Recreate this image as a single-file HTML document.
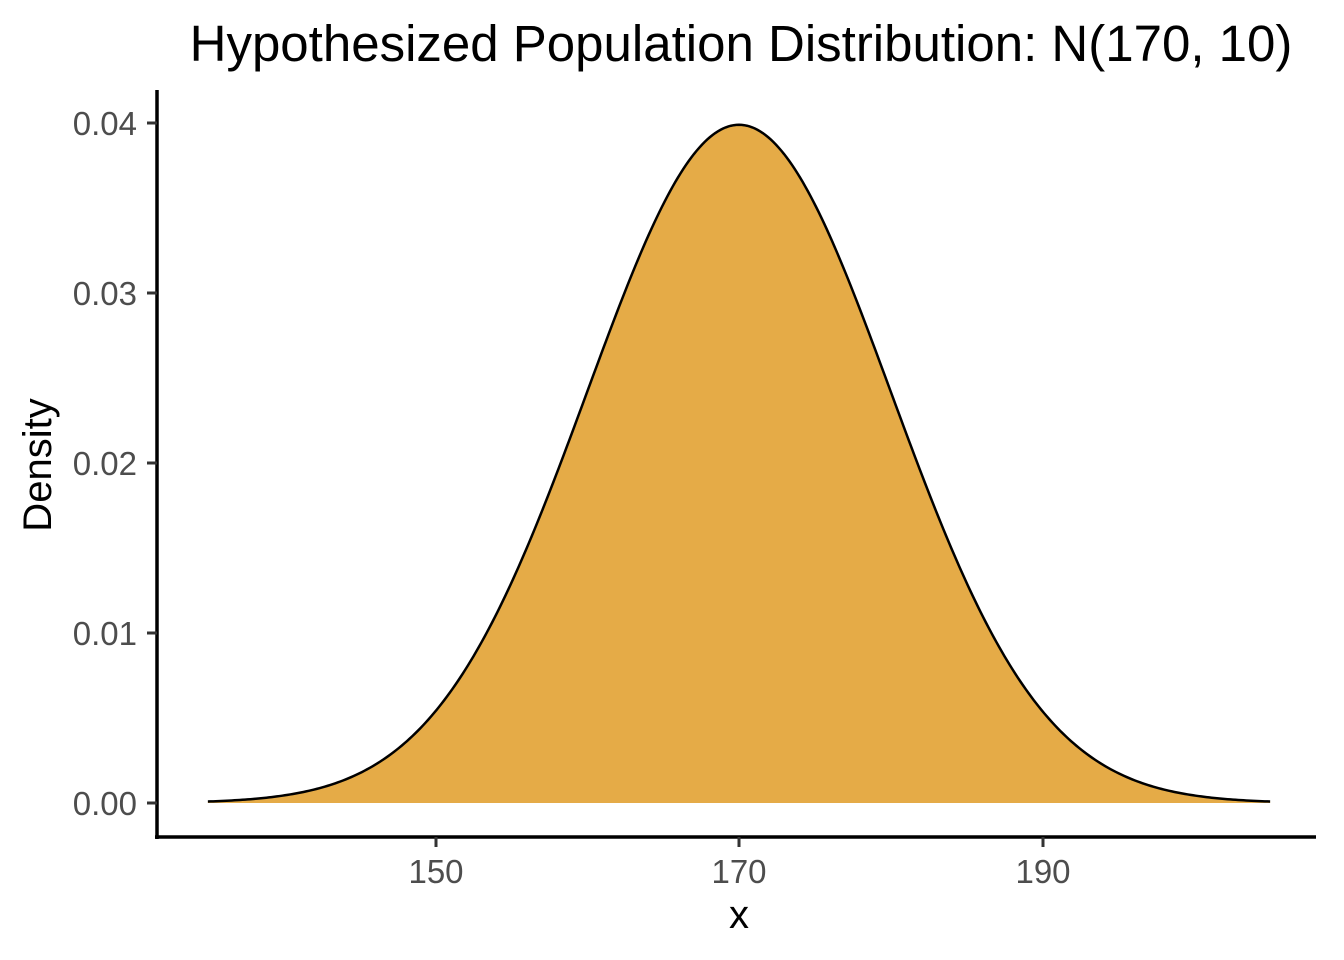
<!DOCTYPE html>
<html><head><meta charset="utf-8"><style>
body{margin:0;background:#fff}
svg{display:block;font-family:"Liberation Sans",sans-serif}
</style></head><body>
<svg id="s" width="1344" height="960" xmlns="http://www.w3.org/2000/svg">
<path id="fill" fill="#E5AB47" stroke="none"/>
<path id="line" fill="none" stroke="#000" stroke-width="2.5"/>
<g stroke="#000" stroke-width="3.5" fill="none">
<line x1="157" y1="90" x2="157" y2="839"/>
<line x1="155" y1="837" x2="1316" y2="837"/>
</g>
<g stroke="#333" stroke-width="3" fill="none">
<line x1="147" y1="803" x2="157" y2="803"/>
<line x1="147" y1="633" x2="157" y2="633"/>
<line x1="147" y1="463" x2="157" y2="463"/>
<line x1="147" y1="293" x2="157" y2="293"/>
<line x1="147" y1="123" x2="157" y2="123"/>
<line x1="436" y1="837" x2="436" y2="847"/>
<line x1="739" y1="837" x2="739" y2="847"/>
<line x1="1043" y1="837" x2="1043" y2="847"/>
</g>
<g fill="#4d4d4d" style="font-size:33px" text-anchor="end">
<text x="137" y="815">0.00</text>
<text x="137" y="645">0.01</text>
<text x="137" y="475">0.02</text>
<text x="137" y="305">0.03</text>
<text x="137" y="135">0.04</text>
</g>
<g fill="#4d4d4d" style="font-size:33px" text-anchor="middle">
<text x="436" y="883">150</text>
<text x="739" y="883">170</text>
<text x="1043" y="883">190</text>
</g>
<text x="739" y="928" style="font-size:40px" text-anchor="middle">x</text>
<text transform="translate(51,465) rotate(-90)" style="font-size:40px" text-anchor="middle">Density</text>
<text x="741" y="61" style="font-size:51px" text-anchor="middle">Hypothesized Population Distribution: N(170, 10)</text>
</svg>
<script>
var d="",pts=[];
for(var i=0;i<=400;i++){var x=135+70*i/400;var y=Math.exp(-Math.pow((x-170)/10,2)/2)/(10*Math.sqrt(2*Math.PI));
pts.push([(739+(x-170)*15.175).toFixed(2),(803-y*17000).toFixed(2)]);}
d="M"+pts.map(function(p){return p[0]+","+p[1]}).join("L");
document.getElementById("line").setAttribute("d",d);
document.getElementById("fill").setAttribute("d",d+"L"+pts[400][0]+",803L"+pts[0][0]+",803Z");
</script>
</body></html>
